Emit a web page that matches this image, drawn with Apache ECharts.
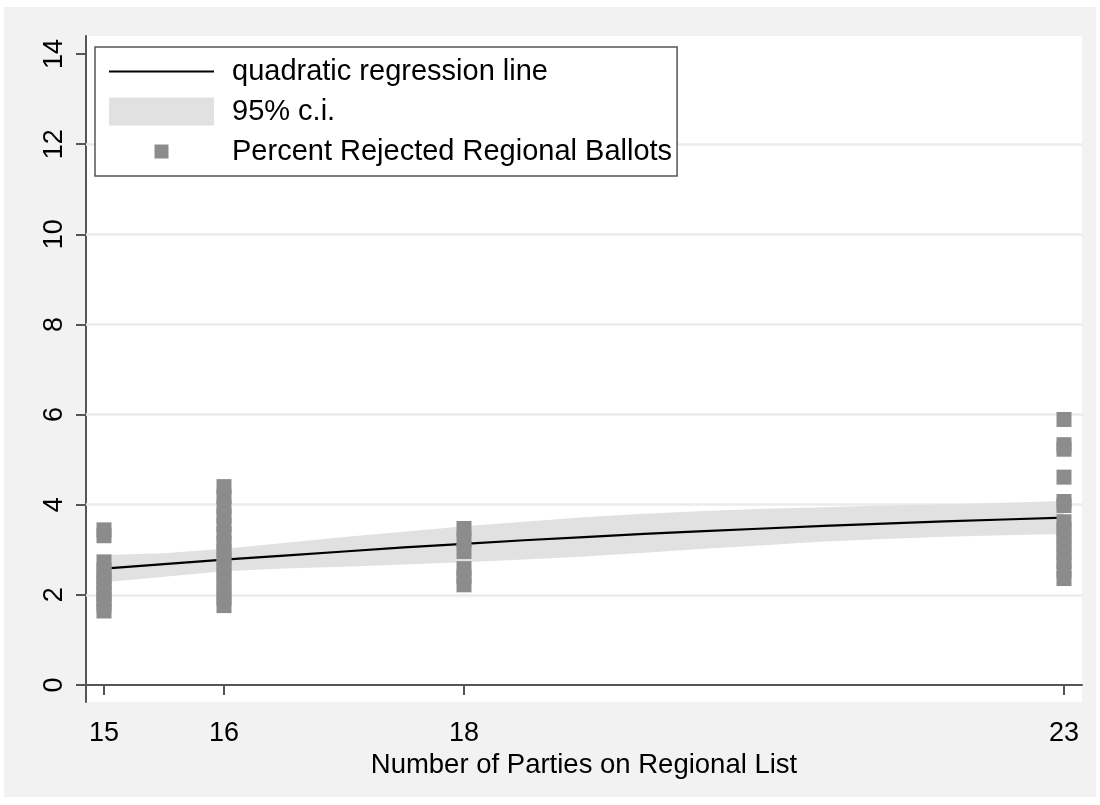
<!DOCTYPE html>
<html>
<head>
<meta charset="utf-8">
<script src="https://cdn.jsdelivr.net/npm/echarts@6/dist/echarts.min.js"></script>
<style>
  html, body { margin: 0; padding: 0; background: #ffffff; }
  #chart { width: 1100px; height: 805px; }
</style>
</head>
<body>
<div id="chart"></div>
<script>
// Axis ticks
const xTicks = [15, 16, 18, 23];
const yTicks = [0, 2, 4, 6, 8, 10, 12, 14];
const gridLevels = [2, 4, 6, 8, 10, 12];

// Quadratic fit and its 95% confidence band, sampled along the x range
const fitX    = [15, 15.5, 16, 16.5, 17, 17.5, 18, 18.5, 19, 19.5, 20, 20.5, 21, 21.5, 22, 22.5, 23];
const fitY    = [2.58, 2.68, 2.78, 2.87, 2.96, 3.05, 3.13, 3.21, 3.28, 3.35, 3.41, 3.47, 3.53, 3.58, 3.63, 3.67, 3.71];
const ciLower = [2.28, 2.40, 2.52, 2.58, 2.62, 2.67, 2.72, 2.78, 2.85, 2.93, 3.02, 3.10, 3.18, 3.24, 3.29, 3.32, 3.35];
const ciUpper = [2.88, 2.92, 3.02, 3.15, 3.28, 3.40, 3.52, 3.62, 3.72, 3.80, 3.86, 3.91, 3.94, 3.98, 4.01, 4.04, 4.08];

// Percent rejected regional ballots, grouped by number of parties on the list
const parties = [15, 16, 18, 23];
const rejected15 = [3.44, 3.31, 2.73, 2.55, 2.40, 2.28, 2.15, 2.02, 1.90, 1.78, 1.64];
const rejected16 = [4.40, 4.18, 3.95, 3.75, 3.55, 3.35, 3.15, 2.98, 2.80, 2.62, 2.45, 2.28, 2.10, 1.93, 1.76];
const rejected18 = [3.47, 3.22, 2.96, 2.58, 2.40, 2.22];
const rejected23 = [5.89, 5.33, 5.23, 4.61, 4.07, 3.98, 3.62, 3.45, 3.27, 3.10, 2.92, 2.74, 2.55, 2.36];

const FONT = '"Liberation Sans", Arial, Helvetica, sans-serif';
const NAME_FIT = 'quadratic regression line';
const NAME_CI = '95% c.i.';
const NAME_PTS = 'Percent Rejected Regional Ballots';
const BAND_COLOR = '#e1e1e1';
const MARKER_COLOR = '#8c8c8c';

const groups = [rejected15, rejected16, rejected18, rejected23];
const scatterData = [];
groups.forEach((vals, i) => vals.forEach(v => scatterData.push([parties[i], v])));

// The band is one closed polygon: upper edge left to right, lower edge back
function renderBand(params, api) {
  if (params.dataIndex !== 0) return null;
  const pts = [];
  for (let i = 0; i < fitX.length; i++) pts.push(api.coord([fitX[i], ciUpper[i]]));
  for (let i = fitX.length - 1; i >= 0; i--) pts.push(api.coord([fitX[i], ciLower[i]]));
  return {
    type: 'polygon',
    shape: { points: pts },
    style: { fill: BAND_COLOR, stroke: null }
  };
}

const chart = echarts.init(document.getElementById('chart'), null, { renderer: 'canvas' });

chart.setOption({
  animation: false,
  backgroundColor: '#ffffff',
  graphic: [{
    type: 'rect', z: -10, silent: true,
    shape: { x: 4, y: 7, width: 1092, height: 790 },
    style: { fill: '#f2f2f2' }
  }],
  grid: {
    left: 86, right: 18, top: 36, bottom: 103,
    show: true, backgroundColor: '#ffffff', borderWidth: 0
  },
  legend: {
    left: 95, top: 47, z: 100,
    orient: 'vertical',
    selectedMode: false,
    itemWidth: 105, itemHeight: 28, itemGap: 11,
    padding: [10, 5, 10, 14],
    borderColor: '#555555', borderWidth: 1.5,
    backgroundColor: '#ffffff',
    textStyle: { fontFamily: FONT, fontSize: 29, color: '#000', lineHeight: 22, padding: [6, 0, 0, 13] },
    data: [
      { name: NAME_FIT, icon: 'path://M0,0L105,0L105,2.2L0,2.2Z', itemStyle: { color: '#000' } },
      { name: NAME_CI, icon: 'rect', itemStyle: { color: BAND_COLOR } },
      { name: NAME_PTS, icon: 'path://M0,0M28,28M7,7L21,7L21,21L7,21Z', itemStyle: { color: MARKER_COLOR } }
    ]
  },
  xAxis: {
    type: 'value', min: 14.85, max: 23.15,
    name: 'Number of Parties on Regional List',
    nameLocation: 'middle', nameGap: 36,
    nameTextStyle: { fontFamily: FONT, fontSize: 27.5, color: '#000' },
    axisLine: { show: true, lineStyle: { color: '#555555', width: 2 } },
    axisTick: { show: true, length: 10, lineStyle: { color: '#555555', width: 2 }, customValues: xTicks },
    axisLabel: { fontFamily: FONT, fontSize: 27, color: '#000', margin: 18, customValues: xTicks },
    splitLine: { show: false }
  },
  yAxis: {
    type: 'value', min: -0.38, max: 14.4,
    axisLine: { show: true, lineStyle: { color: '#555555', width: 2 } },
    axisTick: { show: true, length: 10, lineStyle: { color: '#555555', width: 2 }, customValues: yTicks },
    axisLabel: { fontFamily: FONT, fontSize: 27, color: '#000', margin: 18, rotate: 90, customValues: yTicks },
    splitLine: { show: false }
  },
  series: [
    {
      name: NAME_CI, type: 'custom', silent: true,
      renderItem: renderBand,
      data: fitX.map((x, i) => [x, ciLower[i], ciUpper[i]]),
      encode: { x: 0, y: [1, 2] },
      itemStyle: { color: BAND_COLOR },
      z: 2,
      markLine: {
        silent: true, symbol: ['none', 'none'], label: { show: false },
        lineStyle: { color: '#ebebeb', width: 2.5, type: 'solid' },
        data: gridLevels.map(v => ({ yAxis: v })),
        z: 1
      }
    },
    {
      name: NAME_FIT, type: 'line', symbol: 'none',
      data: fitX.map((x, i) => [x, fitY[i]]),
      lineStyle: { color: '#000000', width: 2.2 },
      itemStyle: { color: '#000000' },
      z: 3
    },
    {
      name: NAME_PTS, type: 'scatter', symbol: 'rect', symbolSize: 15,
      data: scatterData,
      itemStyle: { color: MARKER_COLOR, opacity: 1 },
      z: 4
    }
  ]
});
</script>
</body>
</html>
